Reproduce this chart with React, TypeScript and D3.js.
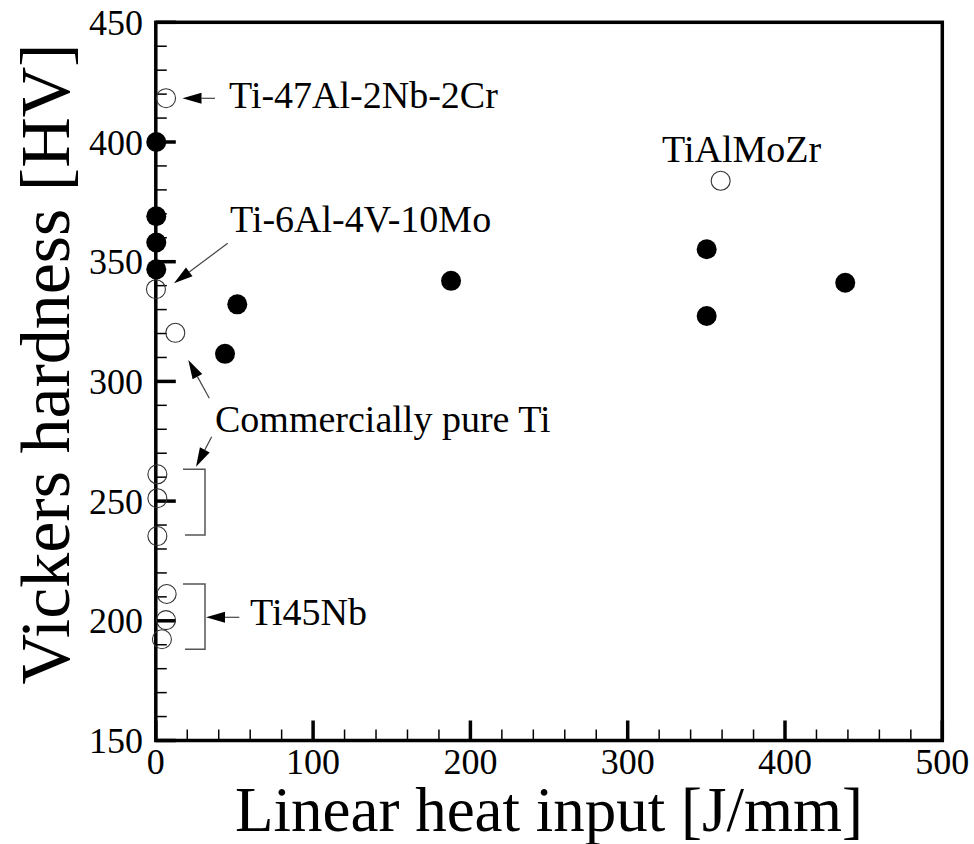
import React from "react";
import * as d3 from "d3";

// ---- data ----
const filledX = [0.3, 0.3, 0.3, 0.3, 44, 51.8, 187.7, 350.2, 350.2, 438.3];
const filledY = [400, 369, 358, 346.8, 311.5, 332.2, 342, 355.2, 327.3, 341.2];
const openX = [6.5, 359.1, 0.1, 12.4, 1, 1, 1, 6.9, 6.5, 3.9];
const openY = [418.3, 383.8, 338.5, 320.3, 261.2, 251.2, 235.4, 211.2, 200.3, 192.3];
const xMajorTicks = [0, 100, 200, 300, 400, 500];
const yMajorTicks = [150, 200, 250, 300, 350, 400, 450];
const xTitle = "Linear heat input [J/mm]";
const yTitle = "Vickers hardness [HV]";
const labelTexts = ["Ti-47Al-2Nb-2Cr", "TiAlMoZr", "Ti-6Al-4V-10Mo", "Commercially pure Ti", "Ti45Nb"];

const W = 974;
const H = 844;
const FONT = "'Liberation Serif', 'Times New Roman', serif";

function Arrow({ x1, y1, x2, y2 }: { x1: number; y1: number; x2: number; y2: number }) {
  const dx = x2 - x1, dy = y2 - y1;
  const len = Math.hypot(dx, dy);
  const ux = dx / len, uy = dy / len;
  const hl = 19, hw = 5.5;
  const bx = x2 - ux * hl, by = y2 - uy * hl;
  const pts = [
    [x2, y2],
    [bx - uy * hw, by + ux * hw],
    [bx + uy * hw, by - ux * hw],
  ];
  return (
    <g>
      <line x1={x1} y1={y1} x2={bx} y2={by} stroke="#444" strokeWidth={1.2} />
      <polygon points={pts.map((p) => p.join(",")).join(" ")} fill="#000" />
    </g>
  );
}

export default function App() {
  const x = d3.scaleLinear().domain([0, 500]).range([155.8, 942.3]);
  const y = d3.scaleLinear().domain([150, 450]).range([740.5, 22.3]);
  const xMinor = d3.range(0, 501, 20).filter((v) => v % 100 !== 0);
  const yMinor = d3.range(150, 451, 10).filter((v) => v % 50 !== 0);
  const x0 = x(0), x1 = x(500), y0 = y(150), y1 = y(450);

  return (
    <svg width={W} height={H} style={{ position: "absolute", left: 0, top: 0, background: "#fff" }} fontFamily={FONT}>
      <rect x={0} y={0} width={W} height={H} fill="#fff" />
      {xMinor.map((v) => (
        <line key={"xm" + v} x1={x(v)} x2={x(v)} y1={y0} y2={y0 - 11} stroke="#000" strokeWidth={1.5} />
      ))}
      {yMinor.map((v) => (
        <line key={"ym" + v} x1={x0} x2={x0 + 11} y1={y(v)} y2={y(v)} stroke="#000" strokeWidth={1.5} />
      ))}
      {xMajorTicks.map((v) => (
        <line key={"xM" + v} x1={x(v)} x2={x(v)} y1={y0} y2={y0 - 20} stroke="#000" strokeWidth={3.5} />
      ))}
      {yMajorTicks.map((v) => (
        <line key={"yM" + v} x1={x0} x2={x0 + 20} y1={y(v)} y2={y(v)} stroke="#000" strokeWidth={3.5} />
      ))}
      <rect x={x0} y={y1} width={x1 - x0} height={y0 - y1} fill="none" stroke="#000" strokeWidth={3.5} />
      {xMajorTicks.map((v) => (
        <text key={"xl" + v} x={x(v)} y={774} textAnchor="middle" fontSize={36} fill="#000">
          {v}
        </text>
      ))}
      {yMajorTicks.map((v) => (
        <text key={"yl" + v} x={143} y={y(v) + 12.5} textAnchor="end" fontSize={36} fill="#000">
          {v}
        </text>
      ))}
      <text x={(x0 + x1) / 2} y={831} textAnchor="middle" fontSize={63} fill="#000">
        {xTitle}
      </text>
      <text transform="translate(69,364) rotate(-90)" textAnchor="middle" fontSize={70} fill="#000">
        {yTitle}
      </text>
      <polyline points="183,469.3 205,469.3 205,535 185,535" fill="none" stroke="#555" strokeWidth={1.5} />
      <polyline points="183,584 205,584 205,649.3 185,649.3" fill="none" stroke="#555" strokeWidth={1.5} />
      <Arrow x1={215} y1={98.3} x2={182.5} y2={98.3} />
      <Arrow x1={227.7} y1={243.3} x2={174} y2={283.3} />
      <Arrow x1={209.3} y1={398.3} x2={188.3} y2={360} />
      <Arrow x1={211.7} y1={436.7} x2={196} y2={466.7} />
      <Arrow x1={239.3} y1={617.3} x2={206} y2={617.3} />
      <text x={229} y={108} fontSize={38} fill="#000">{labelTexts[0]}</text>
      <text x={662} y={161.7} fontSize={38} fill="#000">{labelTexts[1]}</text>
      <text x={230} y={231.7} fontSize={38} fill="#000">{labelTexts[2]}</text>
      <text x={215} y={431.7} fontSize={38} fill="#000">{labelTexts[3]}</text>
      <text x={250} y={625} fontSize={38} fill="#000">{labelTexts[4]}</text>
      {openX.map((v, i) => (
        <circle key={"o" + i} cx={x(v)} cy={y(openY[i])} r={9.5} fill="none" stroke="#333" strokeWidth={1.1} />
      ))}
      {filledX.map((v, i) => (
        <circle key={"f" + i} cx={x(v)} cy={y(filledY[i])} r={10} fill="#000" />
      ))}
    </svg>
  );
}
